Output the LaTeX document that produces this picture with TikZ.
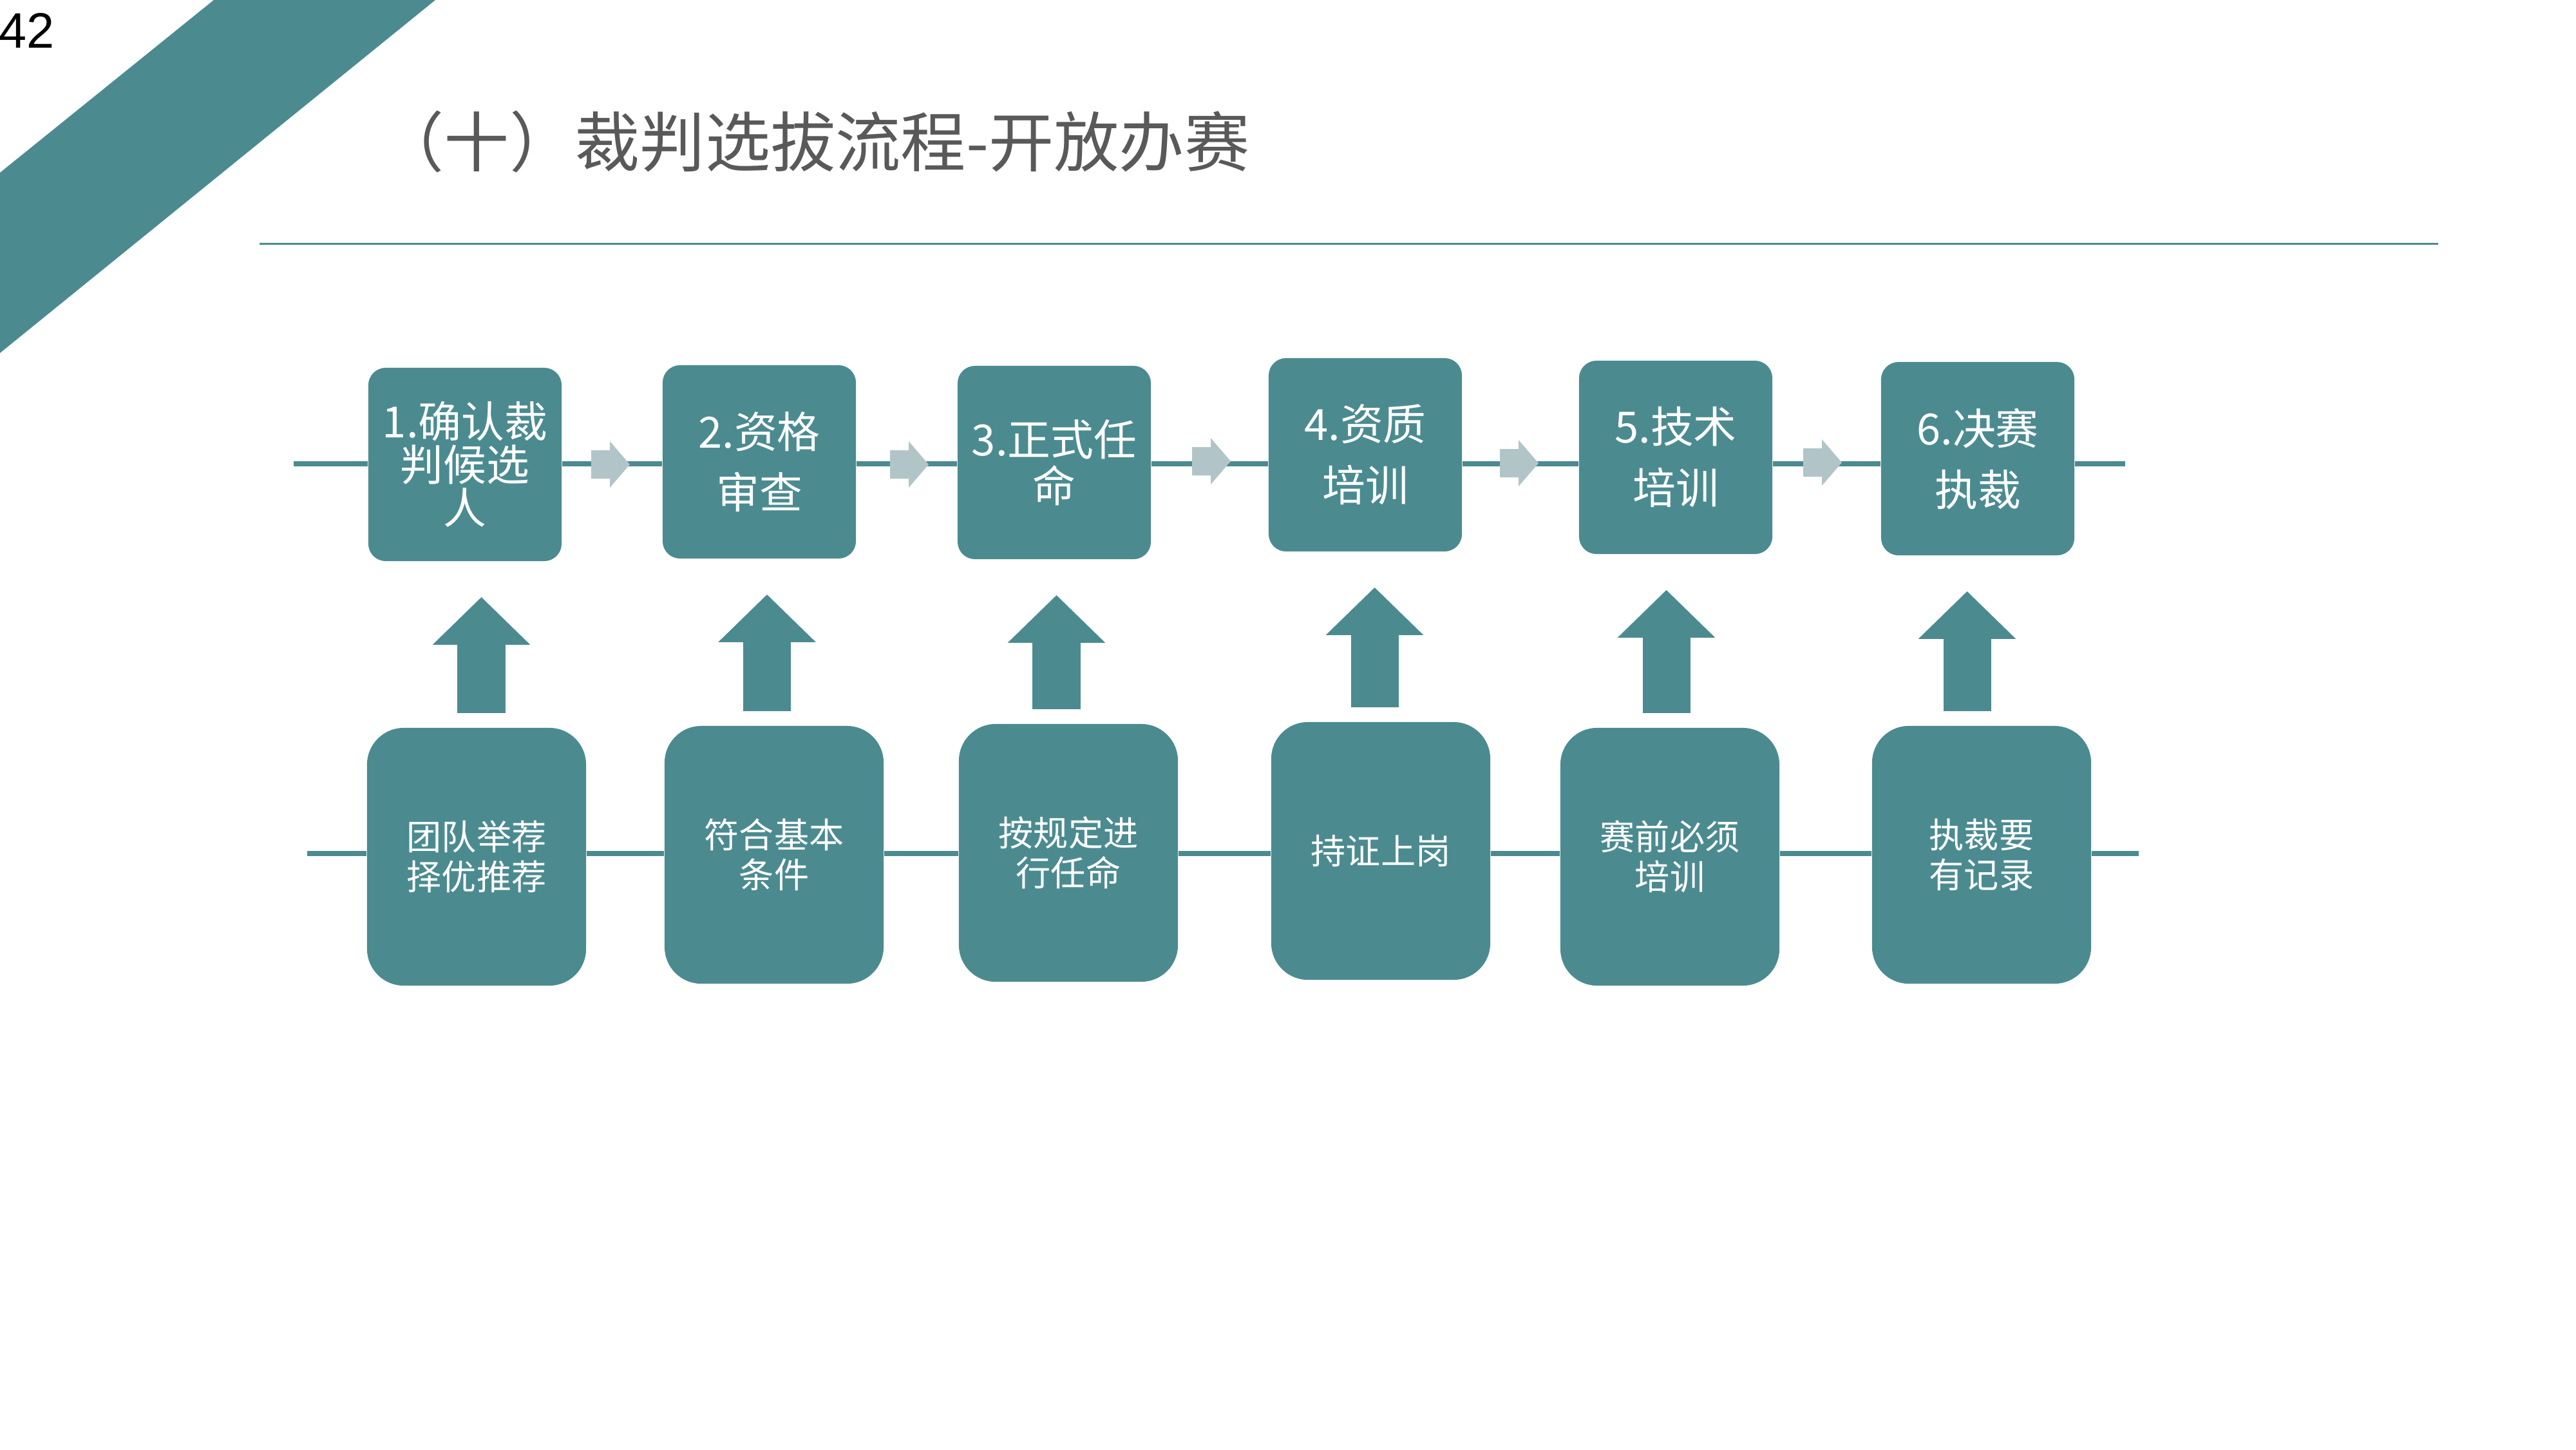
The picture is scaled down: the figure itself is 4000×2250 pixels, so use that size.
\documentclass[tikz,border=0pt]{standalone}
\usepackage{fontspec}
\setmainfont{Liberation Sans}
\newfontfamily\cjk{Noto Sans CJK SC}
\usetikzlibrary{arrows.meta}
\definecolor{teal0}{HTML}{4B8B90}
\definecolor{mist}{HTML}{B1C5C8}
\definecolor{titlegray}{HTML}{595959}

\begin{document}
\begin{tikzpicture}[
    x=0.01cm, y=-0.01cm,
    stage/.style={fill=teal0, rounded corners=0.27cm, minimum width=3cm, minimum height=3cm, inner sep=0pt, text=white, align=center, font=\cjk\fontsize{19}{27}\selectfont},
    cond/.style={fill=teal0, rounded corners=0.57cm, minimum width=3.4cm, minimum height=4cm, inner sep=0pt, text=white, align=center, font=\cjk\fontsize{15.4}{17.6}\selectfont},
    link/.style={draw=teal0, line width=0.08cm},
    uparr/.style={draw=teal0, line width=0.74cm, -{Triangle[width=1.47cm, length=0.74cm]}, shorten <=0.22cm, shorten >=0.55cm},
    garrow/.style={fill=mist}
]
\useasboundingbox (0,0) rectangle (4000,2250);
\fill[white] (0,0) rectangle (4000,2250);

% header
\fill[teal0] (332,0) -- (676,0) -- (0,548) -- (0,268) -- cycle;
\node[anchor=west, inner sep=0pt, font=\fontsize{22}{24}\selectfont] (pageno) at (-2,47) {42};
\node[anchor=west, inner sep=0pt, text=titlegray, font=\cjk\fontsize{28.8}{31}\selectfont] (title) at (588,220) {（十）裁判选拔流程-开放办赛};
\draw[teal0, line width=0.03cm] (403,378) -- (3786,378);

% steps
\node[stage, font=\cjk\fontsize{19}{19}\selectfont] (t1) at (722,721) {1.确认裁\\判候选\\人};
\node[stage] (t2) at (1179,717) {2.资格\\审查};
\node[stage, font=\cjk\fontsize{19}{20.5}\selectfont] (t3) at (1637,718) {3.正式任\\命};
\node[stage] (t4) at (2120,706) {4.资质\\培训};
\node[stage] (t5) at (2602,710) {5.技术\\培训};
\node[stage] (t6) at (3071,712) {6.决赛\\执裁};

% conditions
\node[cond] (b1) at (740,1330) {团队举荐\\择优推荐};
\node[cond] (b2) at (1202,1327) {符合基本\\条件};
\node[cond] (b3) at (1659,1324) {按规定进\\行任命};
\node[cond] (b4) at (2144,1321) {持证上岗};
\node[cond] (b5) at (2593,1330) {赛前必须\\培训};
\node[cond] (b6) at (3077,1327) {执裁要\\有记录};

% flow lines
\coordinate (tl) at (456,720);
\coordinate (tr) at (3300,720);
\coordinate (bl) at (477,1325);
\coordinate (br) at (3321,1325);

\draw[link] (tl) -- (t1.west |- tl);
\draw[link] (t1.east |- tl) -- (t2.west |- tl);
\draw[link] (t2.east |- tl) -- (t3.west |- tl);
\draw[link] (t3.east |- tl) -- (t4.west |- tl);
\draw[link] (t4.east |- tl) -- (t5.west |- tl);
\draw[link] (t5.east |- tl) -- (t6.west |- tl);
\draw[link] (t6.east |- tl) -- (tr);

\draw[link] (bl) -- (b1.west |- bl);
\draw[link] (b1.east |- bl) -- (b2.west |- bl);
\draw[link] (b2.east |- bl) -- (b3.west |- bl);
\draw[link] (b3.east |- bl) -- (b4.west |- bl);
\draw[link] (b4.east |- bl) -- (b5.west |- bl);
\draw[link] (b5.east |- bl) -- (b6.west |- bl);
\draw[link] (b6.east |- bl) -- (br);

% small grey arrows on the top line
\fill[garrow] (918,699) -- ++(29,0) -- ++(0,-14) -- ++(31,36) -- ++(-31,36) -- ++(0,-14) -- ++(-29,0) -- cycle;
\fill[garrow] (1382,699) -- ++(29,0) -- ++(0,-14) -- ++(31,36) -- ++(-31,36) -- ++(0,-14) -- ++(-29,0) -- cycle;
\fill[garrow] (1851,694) -- ++(29,0) -- ++(0,-14) -- ++(31,36) -- ++(-31,36) -- ++(0,-14) -- ++(-29,0) -- cycle;
\fill[garrow] (2329,697) -- ++(29,0) -- ++(0,-14) -- ++(31,36) -- ++(-31,36) -- ++(0,-14) -- ++(-29,0) -- cycle;
\fill[garrow] (2800,696) -- ++(29,0) -- ++(0,-14) -- ++(31,36) -- ++(-31,36) -- ++(0,-14) -- ++(-29,0) -- cycle;

% up arrows
\draw[uparr] ([xshift=0.075cm]b1.north) -- ([xshift=0.075cm]b1.north |- t1.south);
\draw[uparr] ([xshift=-0.11cm]b2.north) -- ([xshift=-0.11cm]b2.north |- t2.south);
\draw[uparr] ([xshift=-0.185cm]b3.north) -- ([xshift=-0.185cm]b3.north |- t3.south);
\draw[uparr] ([xshift=-0.095cm]b4.north) -- ([xshift=-0.095cm]b4.north |- t4.south);
\draw[uparr] ([xshift=-0.055cm]b5.north) -- ([xshift=-0.055cm]b5.north |- t5.south);
\draw[uparr] ([xshift=-0.225cm]b6.north) -- ([xshift=-0.225cm]b6.north |- t6.south);
\end{tikzpicture}
\end{document}
